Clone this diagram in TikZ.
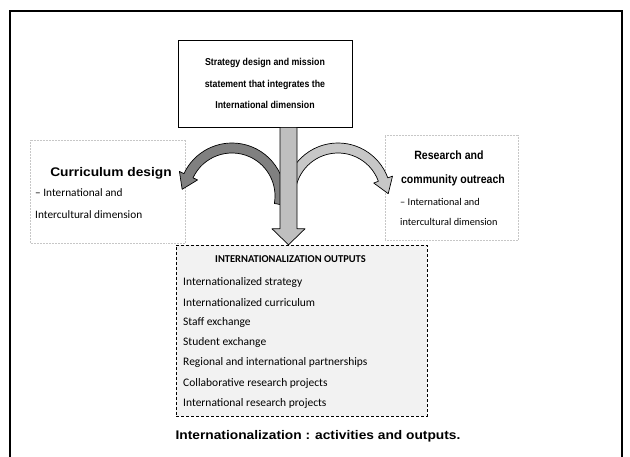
\documentclass[tikz,border=0pt]{standalone}
\usepackage{fontspec}
\setmainfont{Liberation Sans}
\newfontfamily\headfont{Liberation Sans}[FakeStretch=1.1]
\newfontfamily\boxfont{Liberation Sans}[FakeStretch=0.88]
\newfontfamily\listfont{Carlito}
\usetikzlibrary{calc,positioning}

\begin{document}
\begin{tikzpicture}[x=1pt,y=1pt, node distance=20.2pt,
  head/.style={font=\headfont\bfseries\fontsize{12.5}{15}\selectfont, inner sep=0pt},
  sub/.style={font=\listfont\fontsize{11.3}{13}\selectfont, inner sep=0pt, anchor=west},
  item/.style={font=\listfont\fontsize{11.5}{13}\selectfont, inner sep=0pt, anchor=west},
  fat/.style={draw=black, line width=0.7pt, line join=round},
  faint/.style={draw=black!22, densely dotted, line width=0.5pt}]
\useasboundingbox (0,0) rectangle (630,456);
\draw[line width=1.8pt] (10,-5) -- (10,445) -- (622,445) -- (622,-5);

% strategy box at the top
\node[draw, line width=0.8pt, minimum width=174pt, minimum height=87pt, align=center,
  font=\boxfont\bfseries\fontsize{10}{21.5}\selectfont] (strat) at (265,372.5)
  {Strategy design and mission\\ statement that integrates the\\ International dimension};

% the two activity fields
\draw[faint] (30,213) rectangle (185,316);
\draw[faint] (385,216) rectangle (518,321);
\node[head] (cur) at (111,283) {Curriculum design};
\node[sub] (curA) at (35,263) {– International and};
\node[sub, below=22pt of curA.west, anchor=west] (curB) {Intercultural dimension};
\node[head, font=\boxfont\bfseries\fontsize{12}{15}\selectfont] (res) at (449,301) {Research and};
\node[head, font=\boxfont\bfseries\fontsize{12}{15}\selectfont] (com) at (453,276) {community outreach};
\node[sub, font=\listfont\fontsize{10.3}{12}\selectfont] (resA) at (400,254) {– International and};
\node[sub, font=\listfont\fontsize{10.3}{12}\selectfont, below=20pt of resA.west, anchor=west] (resB) {intercultural dimension};

% outputs
\node[draw, densely dashed, fill=black!5, minimum width=251pt, minimum height=171pt] (outs) at (301.5,125.5) {};
\node[font=\listfont\bfseries\fontsize{10.5}{12}\selectfont, inner sep=0pt] (ohead) at (290.5,197) {INTERNATIONALIZATION OUTPUTS};
\node[item] (o1) at (183,174) {Internationalized strategy};
\node[item, below=of o1.west, anchor=west] (o2) {Internationalized curriculum};
\node[item, below=of o2.west, anchor=west] (o3) {Staff exchange};
\node[item, below=of o3.west, anchor=west] (o4) {Student exchange};
\node[item, below=of o4.west, anchor=west] (o5) {Regional and international partnerships};
\node[item, below=of o5.west, anchor=west] (o6) {Collaborative research projects};
\node[item, below=of o6.west, anchor=west] (o7) {International research projects};

% curved arrows out of the main arrow
\coordinate (cl) at (232,260);
\coordinate (cr) at (338,260);
\draw[fat, fill=black!50] ([shift={(-10:53)}]cl) arc[start angle=-10, end angle=155, radius=53]
  -- ([shift={(155:58)}]cl) -- ($(cl)+(155:48)+(245:15)$) -- ([shift={(155:38)}]cl)
  -- ([shift={(155:43)}]cl) arc[start angle=155, end angle=-10, radius=43] -- cycle;
\draw[fat, fill=black!22] ([shift={(190:53)}]cr) arc[start angle=190, end angle=20, radius=53]
  -- ([shift={(20:58)}]cr) -- ($(cr)+(20:48)+(-70:15)$) -- ([shift={(20:38)}]cr)
  -- ([shift={(20:43)}]cr) arc[start angle=20, end angle=190, radius=43] -- cycle;

% main arrow from strategy to outputs
\path (strat.south) ++(23.5,0) coordinate (vtop);
\path (vtop |- outs.north) coordinate (vtip);
\draw[fat, fill=black!25] ([xshift=-8.5pt]vtop) -- ([xshift=-8.5pt,yshift=16pt]vtip)
  -- ([xshift=-16.5pt,yshift=16pt]vtip) -- (vtip) -- ([xshift=16.5pt,yshift=16pt]vtip)
  -- ([xshift=8.5pt,yshift=16pt]vtip) -- ([xshift=8.5pt]vtop) -- cycle;

\node[font=\headfont\bfseries\fontsize{12.5}{15}\selectfont, inner sep=0pt] (cap) at (318,20)
  {Internationalization : activities and outputs.};
\end{tikzpicture}
\end{document}
